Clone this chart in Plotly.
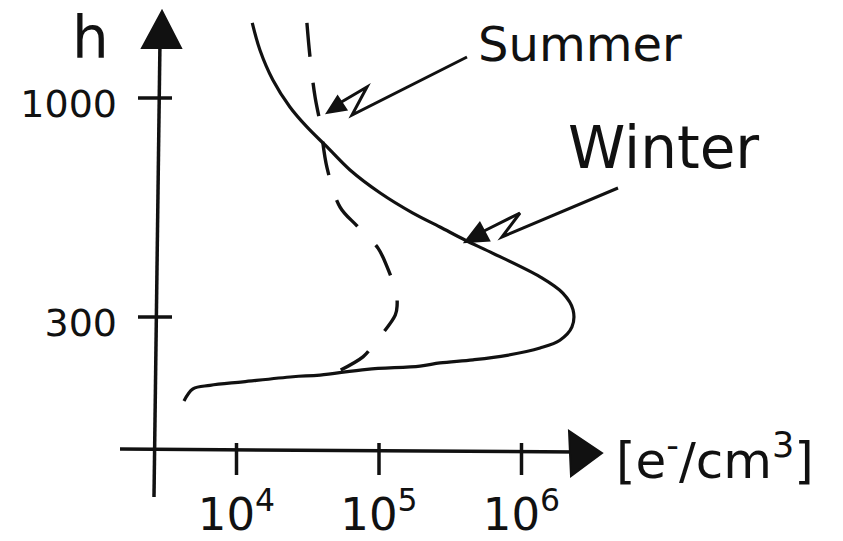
import math
import plotly.graph_objects as go

W, H = 843, 541
INK = "#111111"

# Electron density profiles: height h [km] and density n [e-/cm^3], listed from the top down
winter_h = [1511, 1302, 1104, 952, 853, 764, 673, 593, 531, 492, 458, 429, 374, 342,
            312, 284, 264, 253, 243, 237, 233, 229, 225, 218, 216, 210, 206, 202, 189]
winter_n = [1.29e4, 1.46e4, 1.80e4, 2.37e4, 3.12e4, 4.32e4, 6.26e4, 1.02e5, 1.73e5,
            2.68e5, 4.01e5, 6.01e5, 1.35e6, 1.95e6, 2.30e6, 2.26e6, 1.86e6, 1.35e6,
            7.91e5, 4.57e5, 2.68e5, 1.94e5, 8.24e4, 3.86e4, 2.49e4, 1.11e4, 6.52e3,
            4.95e3, 4.28e3]

summer_h = [1511, 1253, 1005, 872, 681, 549, 495, 438, 395, 342, 320, 303, 257, 241, 212]
summer_n = [3.12e4, 3.28e4, 3.56e4, 3.86e4, 4.32e4, 5.33e4, 7.01e4, 9.84e4, 1.14e5,
            1.32e5, 1.34e5, 1.30e5, 9.08e4, 7.72e4, 3.86e4]

x_ticks = [1e4, 1e5, 1e6]
y_ticks = [300, 1000]
x_unit = "[e<sup>-</sup>/cm<sup>3</sup>]"
y_name = "h"
series_names = ["Summer", "Winter"]

# Axis crossing point (pixel position on the page)
AX_X, AX_Y = 157, 450


def pp(x, y):
    """Page pixel -> paper coordinates."""
    return x / W, 1 - y / H


def path(points, close=False):
    s = ""
    for i, (x, y) in enumerate(points):
        px, py = pp(x, y)
        s += ("M" if i == 0 else "L") + f"{px:.5f},{py:.5f} "
    return s + ("Z" if close else "")


fig = go.Figure()
fig.add_trace(go.Scatter(x=winter_n, y=winter_h, mode="lines", name=series_names[1],
                         line=dict(color=INK, width=3.2, shape="spline")))
fig.add_trace(go.Scatter(x=summer_n, y=summer_h, mode="lines", name=series_names[0],
                         line=dict(color=INK, width=3.4, shape="spline", dash="34px,26px")))

shapes = []
line_style = dict(color=INK, width=3.5)
# axis lines
shapes.append(dict(type="path", xref="paper", yref="paper",
                   path=path([(154, 497), (160, 40)]), line=line_style))
shapes.append(dict(type="path", xref="paper", yref="paper",
                   path=path([(120, 449), (578, 452)]), line=line_style))
# axis arrowheads
shapes.append(dict(type="path", xref="paper", yref="paper",
                   path=path([(162, 11), (142, 48), (181, 48)], close=True),
                   line=dict(color=INK, width=2), fillcolor=INK))
shapes.append(dict(type="path", xref="paper", yref="paper",
                   path=path([(602, 453), (569, 431), (571, 476)], close=True),
                   line=dict(color=INK, width=2), fillcolor=INK))
# tick marks crossing the axes
for v in x_ticks:
    shapes.append(dict(type="line", xref="x", x0=v, x1=v, yref="paper",
                       ysizemode="pixel", yanchor=pp(0, AX_Y)[1], y0=-25, y1=7,
                       line=dict(color=INK, width=3.5)))
for v in y_ticks:
    shapes.append(dict(type="line", yref="y", y0=v, y1=v, xref="paper",
                       xsizemode="pixel", xanchor=pp(AX_X, 0)[0], x0=-19, x1=15,
                       line=dict(color=INK, width=3.5)))
# zig-zag pointers from the labels to the curves
shapes.append(dict(type="path", xref="paper", yref="paper",
                   path=path([(467, 57), (352, 115), (367, 87), (338, 104)]),
                   line=dict(color=INK, width=3)))
shapes.append(dict(type="path", xref="paper", yref="paper",
                   path=path([(327, 113), (337.6, 96.3), (346.4, 109.7)], close=True),
                   line=dict(color=INK, width=2), fillcolor=INK))
shapes.append(dict(type="path", xref="paper", yref="paper",
                   path=path([(618, 188), (502, 237), (520, 213), (482, 232)]),
                   line=dict(color=INK, width=3)))
shapes.append(dict(type="path", xref="paper", yref="paper",
                   path=path([(465, 242), (479.8, 222.8), (489.2, 240.6)], close=True),
                   line=dict(color=INK, width=2), fillcolor=INK))

font = "DejaVu Sans"
annotations = []


def label(text, x, y, size, xanchor="left"):
    px, py = pp(x, y)
    annotations.append(dict(text=text, x=px, y=py, xref="paper", yref="paper",
                            xanchor=xanchor, yanchor="middle", showarrow=False,
                            font=dict(family=font, size=size, color=INK)))


label(series_names[0], 476, 44, 48)
label(series_names[1], 566, 148, 58)
label(x_unit, 614, 458, 50)
label(y_name, 90, 38, 58, xanchor="center")

x_ticktext = [f"10<sup>{round(math.log10(v))}</sup>" for v in x_ticks]

fig.update_layout(
    width=W, height=H,
    margin=dict(l=0, r=0, t=0, b=0),
    paper_bgcolor="white", plot_bgcolor="white",
    showlegend=False,
    shapes=shapes, annotations=annotations,
    xaxis=dict(type="log", range=[2.3404, 8.2561], anchor="free", position=pp(0, AX_Y)[1],
               tickvals=x_ticks, ticktext=x_ticktext, showgrid=False, zeroline=False,
               showline=False, ticks="", ticklabelstandoff=34,
               tickfont=dict(family=font, size=45, color=INK)),
    yaxis=dict(type="log", range=[1.9422, 3.234], anchor="free", position=pp(AX_X, 0)[0],
               tickvals=y_ticks, ticktext=[str(v) for v in y_ticks], showgrid=False,
               zeroline=False, showline=False, ticks="", ticklabelstandoff=40,
               ticklabelshift=6,
               tickfont=dict(family=font, size=38, color=INK)),
)

fig.write_html("out.html")
